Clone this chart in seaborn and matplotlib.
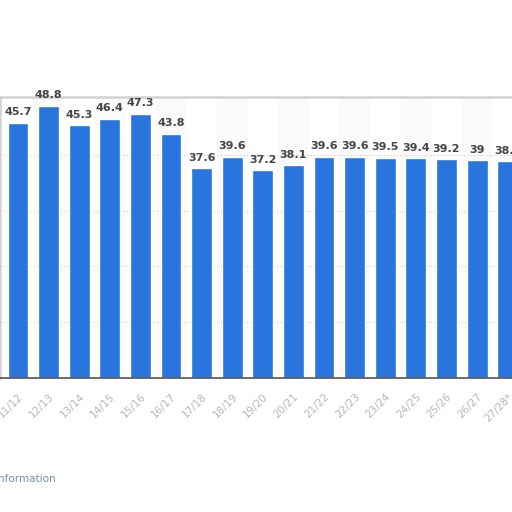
import numpy as np
import pandas as pd
import matplotlib
matplotlib.use("Agg")
import matplotlib.pyplot as plt
import seaborn as sns

# seasons and values
seasons = ["11/12", "12/13", "13/14", "14/15", "15/16", "16/17", "17/18", "18/19",
           "19/20", "20/21", "21/22", "22/23", "23/24", "24/25", "25/26", "26/27", "27/28*"]
values = [45.7, 48.8, 45.3, 46.4, 47.3, 43.8, 37.6, 39.6,
          37.2, 38.1, 39.6, 39.6, 39.5, 39.4, 39.2, 39.0, 38.8]
value_labels = ["45.7", "48.8", "45.3", "46.4", "47.3", "43.8", "37.6", "39.6",
                "37.2", "38.1", "39.6", "39.6", "39.5", "39.4", "39.2", "39", "38.8"]
y_ticks = [10, 20, 30, 40]

df = pd.DataFrame({"season": seasons, "value": values})

sns.set_theme(style="white")
plt.rcParams['font.family'] = ['DejaVu Sans']

fig = plt.figure(figsize=(5.12, 5.12), dpi=100)
ax = fig.add_axes([0.0, 0.262, 1.0, 0.549])

# faint alternating column bands
for i in range(len(seasons)):
    if i % 2 == 1:
        ax.axvspan(i - 0.5, i + 0.5, color="#fafafa", zorder=0, lw=0)

sns.barplot(data=df, x="season", y="value", color="#2876dd", saturation=1,
            width=0.68, ax=ax, zorder=2)

for i, (v, lab) in enumerate(zip(values, value_labels)):
    ax.text(i, v + 1.0, lab, ha="center", va="bottom", fontsize=8,
            fontweight="bold", color="#454545", zorder=3)

ax.set_xlim(-0.59, 16.14)
ax.set_ylim(0, 50.4)
ax.set_yticks(y_ticks)
ax.yaxis.grid(True, linestyle=(0, (1, 2)), color="#cccccc", lw=0.8)
ax.set_axisbelow(True)
ax.tick_params(axis="y", left=False, labelleft=False)
ax.set_xlabel("")
ax.set_ylabel("")
ax.tick_params(axis="x", bottom=False, pad=4)
plt.setp(ax.get_xticklabels(), rotation=45, ha="right", rotation_mode="anchor",
         fontsize=7.5, color="#b5b5b5")

for s in ["top", "left"]:
    ax.spines[s].set_color("#d2d2d2")
    ax.spines[s].set_linewidth(1.8)
ax.spines["right"].set_visible(False)
ax.spines["bottom"].set_color("#555555")
ax.spines["bottom"].set_linewidth(1.2)

fig.text(-0.12, 0.058, "Additional Information", fontsize=7.5, color="#6f8fa8")

fig.savefig("out.png", dpi=100)
